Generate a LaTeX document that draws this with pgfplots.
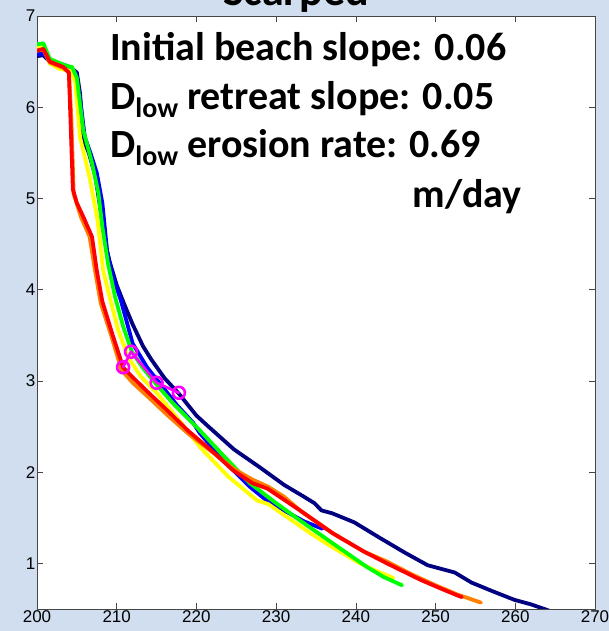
\documentclass[border=0pt]{standalone}
\usepackage{fontspec}
\setmainfont{Liberation Sans}
\newfontfamily\calibri{Carlito}
\usepackage{pgfplots}
\pgfplotsset{compat=1.18}
\definecolor{bg}{RGB}{208,222,240}
\definecolor{navy}{RGB}{0,0,128}
\definecolor{mblue}{RGB}{0,0,255}
\definecolor{mgreen}{RGB}{0,255,0}
\definecolor{myellow}{RGB}{255,255,0}
\definecolor{morange}{RGB}{255,128,0}
\definecolor{mred}{RGB}{255,0,0}
\definecolor{mmag}{RGB}{255,0,255}
\definecolor{axgray}{RGB}{70,70,70}

\begin{document}
\begin{tikzpicture}
\useasboundingbox (0,0) rectangle (609pt,631pt);
\fill[bg] (0,0) rectangle (609pt,631pt);
\begin{scope}
\clip (0,0) rectangle (609pt,631pt);
\node[anchor=base,inner sep=0pt,font=\calibri\bfseries\fontsize{44}{44}\selectfont] at (296pt,625pt) {Scarped};
\end{scope}
\begin{axis}[at={(37pt,22pt)},anchor=south west,scale only axis,
  width=558pt,height=593pt,
  xmin=200,xmax=270,ymin=0.5,ymax=7,
  xtick={200,210,...,270},ytick={1,2,...,7},
  tick align=inside,major tick length=6pt,
  tick style={axgray,line width=0.6pt},
  axis line style={axgray,line width=0.8pt},
  axis background/.style={fill=white},
  tick label style={font=\fontsize{17}{17}\selectfont,inner sep=1.5pt},
  /pgf/number format/assume math mode=true,
  every axis plot/.append style={line width=3.8pt,line join=round,line cap=round}]
% navy
\addplot[navy] coordinates {(200,6.56)(200.8,6.57)(201.6,6.50)(203.5,6.45)(204.3,6.43)(205.0,6.38)(205.4,6.15)(205.8,5.65)(206.5,5.5)(207.3,5.25)(208.0,4.86)(208.6,4.5)(209.1,4.31)(210.0,4.05)(210.9,3.85)(212.0,3.62)(213.3,3.38)(214.3,3.24)(216.0,3.03)(217.8,2.86)(220,2.62)(221.5,2.50)(224.7,2.25)(228,2.05)(231,1.86)(233.5,1.73)(234.8,1.66)(235.7,1.58)(237,1.55)(239.8,1.45)(243,1.28)(246.1,1.12)(249,0.98)(252.4,0.90)(254.5,0.79)(257,0.70)(259.9,0.60)(262,0.55)(264.3,0.48)};
% blue
\addplot[mblue] coordinates {(200,6.58)(200.8,6.59)(201.6,6.51)(203.5,6.46)(204.3,6.43)(204.9,6.37)(205.4,6.1)(206.0,5.67)(206.7,5.5)(207.5,5.28)(208.2,4.95)(208.8,4.42)(209.5,4.15)(210.5,3.89)(212.0,3.41)(213.8,3.15)(215.8,2.93)(217.6,2.73)(219.6,2.54)(220.4,2.43)(223.5,2.12)(226.7,1.84)(228.8,1.69)(231,1.58)(233.5,1.46)(235.8,1.38)};
% yellow
\addplot[myellow] coordinates {(200,6.66)(200.8,6.67)(201.6,6.48)(202.8,6.42)(204.3,6.40)(204.8,6.27)(205.4,5.67)(206.6,5.23)(207.6,4.76)(208.3,4.21)(209.2,3.89)(210.2,3.55)(211.5,3.25)(213,3.05)(215,2.87)(218,2.55)(220.5,2.27)(224,1.95)(226.5,1.77)(227.6,1.69)(229,1.65)(231.5,1.50)(234.3,1.33)(237,1.18)(240.5,1.00)(242.5,0.92)(244.7,0.84)};
% green
\addplot[mgreen] coordinates {(200,6.69)(200.8,6.70)(201.6,6.53)(203.5,6.46)(204.4,6.44)(205.0,6.32)(205.8,5.75)(206.9,5.39)(207.7,5.06)(208.2,4.69)(208.9,4.29)(209.8,3.92)(210.8,3.6)(211.9,3.32)(213.3,3.14)(214.8,2.98)(217,2.76)(220.4,2.46)(223.5,2.17)(226.7,1.88)(230,1.66)(233.0,1.47)(237.1,1.22)(241.4,0.96)(243.5,0.85)(245.8,0.76)};
% orange
\addplot[morange] coordinates {(200,6.62)(200.8,6.63)(201.6,6.49)(203.3,6.43)(204.0,6.38)(204.3,5.9)(204.6,5.05)(205.5,4.80)(206.6,4.58)(207.3,4.2)(208.0,3.85)(209.3,3.5)(210.6,3.12)(212,2.98)(214,2.82)(216.3,2.63)(219,2.42)(222,2.22)(224.6,2.04)(227,1.92)(229,1.84)(231,1.73)(233.0,1.58)(237.1,1.33)(241,1.13)(243.9,1.02)(247,0.88)(250,0.76)(252.7,0.66)(254.7,0.60)(255.7,0.57)};
% red
\addplot[mred] coordinates {(200,6.62)(200.8,6.64)(201.6,6.50)(203.3,6.44)(204.0,6.38)(204.5,5.1)(205.0,4.95)(205.8,4.80)(206.9,4.58)(207.5,4.21)(208.2,3.87)(209.5,3.5)(210.8,3.15)(212.0,3.04)(214,2.87)(216.3,2.68)(219,2.45)(222.1,2.22)(224.6,2.02)(227,1.88)(228.9,1.82)(230.1,1.75)(233.0,1.58)(237.1,1.33)(241,1.13)(243.9,1.0)(248.1,0.82)(250.5,0.73)(252.7,0.65)(253.3,0.63)};
% markers
\addplot[mmag,line width=2.6pt,mark=o,mark size=6pt,mark options={line width=2.6pt}] coordinates {(210.8,3.15)(211.8,3.32)(215.0,2.98)(217.8,2.87)};
\end{axis}
\begin{scope}[font=\calibri\bfseries\fontsize{40}{40}\selectfont]
\node[anchor=base west,inner sep=0pt] at (110pt,570pt) {Initial beach slope: 0.06};
\node[anchor=base west,inner sep=0pt] at (110pt,521pt) {D\raisebox{-8pt}{\fontsize{28}{28}\selectfont low} retreat slope: 0.05};
\node[anchor=base west,inner sep=0pt] at (110pt,473pt) {D\raisebox{-8pt}{\fontsize{28}{28}\selectfont low} erosion rate: 0.69};
\node[anchor=base east,inner sep=0pt] at (522pt,423pt) {m/day};
\end{scope}
\end{tikzpicture}
\end{document}
